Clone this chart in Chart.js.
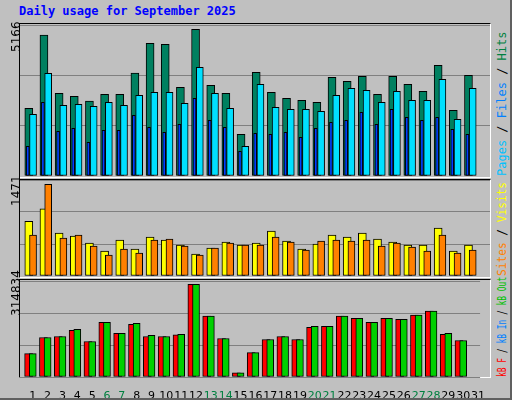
<!DOCTYPE html>
<html><head><meta charset="utf-8">
<script src="https://cdn.jsdelivr.net/npm/chart.js@4/dist/chart.umd.min.js"></script>
<style>
body{margin:0;background:#C0C0C0;}
#wrap{position:relative;width:510px;height:398px;border-right:2px solid #606060;border-bottom:2px solid #606060;background:#C0C0C0;overflow:hidden}
.panel{position:absolute;left:19px;width:470px;border:1px solid;border-color:#000 #fff #fff #000;background:#C0C0C0}
canvas{position:absolute}
.t{position:absolute;font:bold 12px "DejaVu Sans Mono",monospace;white-space:nowrap}
.lv{position:absolute;font:12px "DejaVu Sans",sans-serif;transform-origin:0 0;transform:rotate(-90deg);white-space:nowrap}
.rv{position:absolute;font:12px "DejaVu Sans Mono",monospace;transform-origin:0 0;transform:rotate(-90deg);white-space:nowrap}
</style></head><body>
<div id="wrap">
<div class="t" style="left:19px;top:4px;color:#0000FF">Daily usage for September 2025</div>
<div class="panel" style="top:23px;height:153px"></div>
<div class="panel" style="top:179px;height:97px"></div>
<div class="panel" style="top:279px;height:97px"></div>
<canvas id="c1" width="470" height="151" style="left:20px;top:25px"></canvas>
<canvas id="c2" width="470" height="96" style="left:20px;top:180px"></canvas>
<canvas id="c3" width="470" height="120" style="left:20px;top:281px"></canvas>
<div class="lv" style="left:9px;top:52px">5166</div>
<div class="lv" style="left:9px;top:206px">1471</div>
<div class="lv" style="left:9px;top:316px">314834</div>
<div class="rv" style="left:495px;top:176px"><span style="color:#00C0FF">Pages</span> / <span style="color:#0080FF">Files</span> / <span style="color:#008040">Hits</span></div>
<div class="rv" style="left:495px;top:276px;transform:rotate(-90deg) scaleX(0.93)"><span style="color:#FF8000">Sites</span> / <span style="color:#FFFF00">Visits</span></div>
<div class="rv" style="left:495px;top:377px;transform:rotate(-90deg) scaleX(0.66)"><span style="color:#FF0000">kB F</span> / <span style="color:#0080FF">kB In</span> / <span style="color:#00C000">kB Out</span></div>
</div>
<script>
const days = Array.from({length:31},(_,i)=>String(i+1));
const weekend = [6,7,13,14,20,21,27,28];
const hits  = [2383,4966,2912,2806,2642,2876,2876,3628,4673,4637,3123,5166,3193,2912,1468,3651,2947,2735,2665,2595,3475,3334,3510,2876,3510,3229,2982,3898,2313,3545,0];
const files = [2172,3616,2489,2524,2454,2595,2489,2841,2947,2947,2559,3827,2912,2383,1045,3229,2418,2348,2348,2278,2841,3088,3017,2595,2982,2665,2665,3405,1996,3088,0];
const pages = [1045,2595,1573,1679,1186,1608,1608,2137,1714,1538,1820,2735,1961,1714,869,1503,1468,1538,1362,1679,1890,1961,2242,1820,2348,2066,1961,2066,1644,1468,0];
const visits = [879,1077,688,640,528,400,576,432,624,576,496,352,448,544,496,528,720,560,432,512,656,624,688,592,544,496,496,768,400,496,0];
const sites  = [656,1471,608,656,480,336,432,368,576,592,480,336,448,528,496,496,624,544,416,560,576,560,576,480,528,464,400,656,368,416,0];
const kbF   = [79281,134433,137880,158562,120645,186138,148221,179244,137880,137880,143600,314834,206820,130986,13788,82728,127539,137880,127539,168903,172350,206820,199926,186138,199926,196479,210267,224055,144774,124092,0];
const kbOut = [79281,134433,137880,162009,120645,186138,148221,182691,141327,137880,144774,314834,206820,130986,13788,82728,127539,137880,127539,172350,172350,206820,199926,186138,199926,196479,210267,224055,148221,124092,0];

const pts = (arr, off) => arr.map((v,i)=>({x:i+off,y:v}));
const bar = (label, arr, off, color, w, order) => ({label, data:pts(arr,off), backgroundColor:color,
  borderColor:'#000', borderWidth:1, barThickness:w, grouped:false, order, borderSkipped:false});

function make(id, datasets, max, showX){
  new Chart(document.getElementById(id), {
    type:'bar',
    data:{datasets},
    options:{
      responsive:false, animation:false, devicePixelRatio:1,
      layout:{padding:0},
      plugins:{legend:{display:false}, tooltip:{enabled:false}},
      scales:{
        x:{type:'linear', min:0, max:31, offset:false,
           display:showX, grid:{display:false}, border:{display:false},
           afterBuildTicks:s=>{ s.ticks = days.map((d,i)=>({value:i+0.86})); },
           afterFit:s=>{ s.height = showX ? 24 : 0; },
           ticks:{autoSkip:false, maxRotation:0, padding:5,
             font:{family:'DejaVu Sans', size:11},
             color:c=>weekend.includes(c.index+1)?'#008040':'#000',
             callback:(v,i)=>days[i]}},
        y:{min:0, max, display:true, grid:{color:'#808080', drawTicks:false},
           border:{display:false}, ticks:{display:false, stepSize:max/3},
           afterFit:s=>{ s.width = 0; }}
      }
    }
  });
}

make('c1', [
  bar('Hits', hits, 0.58, '#008060', 8, 3),
  bar('Pages', pages, 0.51, '#0040FF', 3, 2),
  bar('Files', files, 0.86, '#00E0FF', 7, 1)
], 5317, false);
make('c2', [
  bar('Visits', visits, 0.58, '#FFFF00', 8, 2),
  bar('Sites', sites, 0.86, '#FF8000', 7, 1)
], 1540, false);
make('c3', [
  bar('kB F', kbF, 0.58, '#FF0000', 8, 2),
  bar('kB Out', kbOut, 0.86, '#00D000', 7, 1)
], 326560, true);
</script>
</body></html>
